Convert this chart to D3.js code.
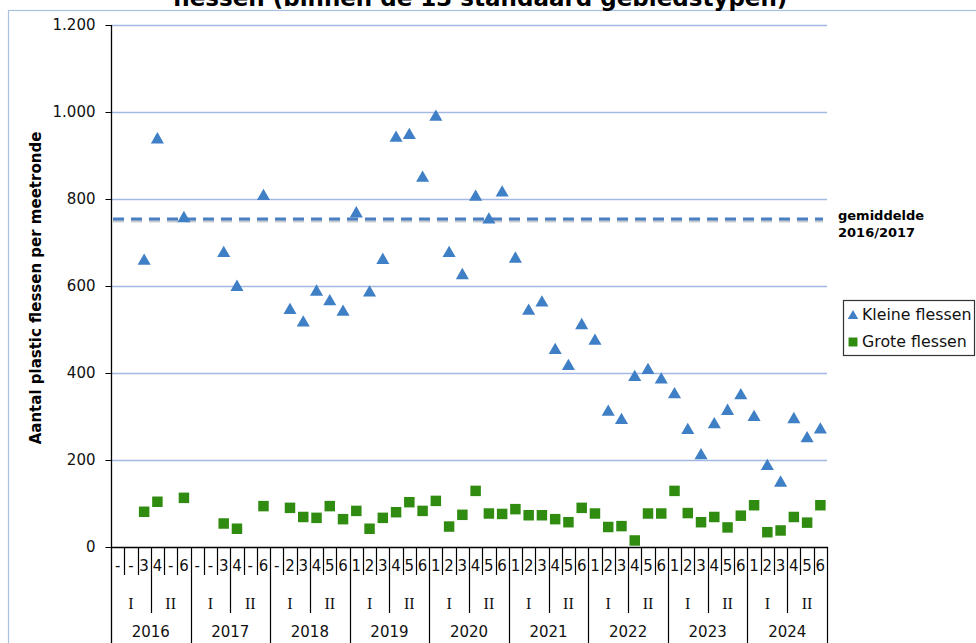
<!DOCTYPE html>
<html>
<head>
<meta charset="utf-8">
<script src="https://cdn.jsdelivr.net/npm/d3@7"></script>
<style>
  html, body { margin: 0; padding: 0; background: #fff; }
  svg { display: block; }
</style>
</head>
<body>
<div id="chart"></div>
<script>
const years = ['2016', '2017', '2018', '2019', '2020', '2021', '2022', '2023', '2024'];
const halves = ['I', 'II'];
const rounds = [
  '-', '-', '3', '4', '-', '6',
  '-', '-', '3', '4', '-', '6',
  '-', '2', '3', '4', '5', '6',
  '1', '2', '3', '4', '5', '6',
  '1', '2', '3', '4', '5', '6',
  '1', '2', '3', '4', '5', '6',
  '1', '2', '3', '4', '5', '6',
  '1', '2', '3', '4', '5', '6',
  '1', '2', '3', '4', '5', '6'
];
const kleineFlessen = [
  null, null, 662, 941, null, 760,
  null, null, 680, 602, null, 811,
  null, 549, 520, 591, 569, 545,
  771, 589, 664, 945, 951, 853,
  993, 680, 629, 809, 757, 819,
  667, 547, 566, 457, 420, 514,
  478, 315, 296, 395, 411, 389,
  355, 273, 215, 286, 317, 353,
  303, 190, 152, 298, 254, 274
];
const groteFlessen = [
  null, null, 81, 104, null, 113,
  null, null, 54, 42, null, 94,
  null, 90, 69, 67, 94, 64,
  83, 42, 67, 80, 103, 83,
  106, 47, 74, 129, 77, 76,
  87, 73, 73, 64, 57, 90,
  77, 46, 48, 15, 77, 77,
  129, 78, 57, 69, 45, 72,
  96, 34, 38, 69, 56, 96
];
const gemiddelde = 754;
const yTicks = [0, 200, 400, 600, 800, 1000, 1200];

const width = 976;
const height = 643;
const plotLeft = 111;
const plotRight = 827;
const plotTop = 25;
const plotBottom = 547;
const font = '"DejaVu Sans", Verdana, sans-serif';
const blue = '#3f7fc5';
const green = '#2f8c10';

const nl = d3.formatLocale({ decimal: ',', thousands: '.', grouping: [3], currency: ['€', ''] });
const fmt = nl.format(',d');

const svg = d3.select('#chart').append('svg')
  .attr('width', width)
  .attr('height', height)
  .style('font-family', font);

// chart frame
svg.append('rect')
  .attr('x', 8.5).attr('y', 10.5)
  .attr('width', 1000).attr('height', 700)
  .attr('fill', 'none')
  .attr('stroke', '#aac0e2')
  .attr('stroke-width', 1.2);

// title (cut off at top, as in the source)
svg.append('text')
  .attr('x', 480).attr('y', 6)
  .attr('text-anchor', 'middle')
  .attr('font-size', 23)
  .attr('font-weight', 'bold')
  .text('flessen (binnen de 13 standaard gebiedstypen)');

const x = d3.scaleBand().domain(d3.range(rounds.length)).range([plotLeft, plotRight]).padding(0);
const y = d3.scaleLinear().domain([0, 1200]).range([plotBottom, plotTop]);
const bw = x.bandwidth();

// gridlines
svg.append('g')
  .selectAll('line')
  .data(yTicks.filter(d => d > 0))
  .enter()
  .append('line')
  .attr('x1', plotLeft).attr('x2', plotRight)
  .attr('y1', d => Math.round(y(d)) + 0.5)
  .attr('y2', d => Math.round(y(d)) + 0.5)
  .attr('stroke', '#a3b9e4')
  .attr('stroke-width', 1.3);

// y axis
const yAxis = svg.append('g')
  .attr('transform', `translate(${plotLeft + 0.5},0)`)
  .call(d3.axisLeft(y).tickValues(yTicks).tickFormat(fmt).tickSize(6).tickPadding(10));
yAxis.select('.domain').remove();
yAxis.selectAll('.tick line').attr('stroke', '#000');
yAxis.selectAll('.tick text')
  .attr('font-size', 15)
  .attr('font-family', font)
  .attr('fill', '#111');

svg.append('line')
  .attr('x1', plotLeft + 0.5).attr('x2', plotLeft + 0.5)
  .attr('y1', plotTop).attr('y2', height)
  .attr('stroke', '#000').attr('stroke-width', 1.3);

svg.append('text')
  .attr('transform', `translate(41,${(plotTop + plotBottom) / 2 + 2}) rotate(-90)`)
  .attr('text-anchor', 'middle')
  .attr('font-size', 15)
  .attr('font-weight', 'bold')
  .text('Aantal plastic flessen per meetronde');

// x axis with three label levels
svg.append('line')
  .attr('x1', plotLeft).attr('x2', plotRight + 1)
  .attr('y1', plotBottom + 0.5).attr('y2', plotBottom + 0.5)
  .attr('stroke', '#000').attr('stroke-width', 1.3);

const xAxis = svg.append('g');
const bounds = d3.range(rounds.length + 1);
xAxis.selectAll('.sep')
  .data(bounds.filter(i => i > 0))
  .enter()
  .append('line')
  .attr('class', 'sep')
  .attr('x1', i => Math.round(plotLeft + i * bw) + 0.5)
  .attr('x2', i => Math.round(plotLeft + i * bw) + 0.5)
  .attr('y1', plotBottom)
  .attr('y2', i => {
    if (i % 6 === 0) return height;
    if (i % 3 === 0) return 613;
    return 575;
  })
  .attr('stroke', '#000')
  .attr('stroke-width', 1.2);

xAxis.selectAll('.round')
  .data(rounds)
  .enter()
  .append('text')
  .attr('x', (d, i) => x(i) + bw / 2)
  .attr('y', 571)
  .attr('text-anchor', 'middle')
  .attr('font-size', 15)
  .attr('fill', '#111')
  .text(d => d);

const halfData = [];
years.forEach((yr, yi) => {
  halves.forEach((h, hi) => {
    halfData.push({ label: h, start: yi * 6 + hi * 3 });
  });
});
xAxis.selectAll('.half')
  .data(halfData)
  .enter()
  .append('text')
  .attr('x', d => x(d.start) + bw * 1.5)
  .attr('y', 609)
  .attr('text-anchor', 'middle')
  .attr('font-size', 16)
  .attr('font-family', '"Liberation Serif", "Times New Roman", serif')
  .attr('fill', '#111')
  .text(d => d.label);

xAxis.selectAll('.year')
  .data(years)
  .enter()
  .append('text')
  .attr('x', (d, i) => x(i * 6) + bw * 3)
  .attr('y', 637)
  .attr('text-anchor', 'middle')
  .attr('font-size', 15)
  .attr('fill', '#111')
  .text(d => d);

// average 2016/2017 dashed line with soft shadow
const avgY = y(gemiddelde);
svg.append('line')
  .attr('x1', plotLeft + 2).attr('x2', plotRight - 4)
  .attr('y1', avgY + 2).attr('y2', avgY + 2)
  .attr('stroke', '#8a8f99')
  .attr('stroke-opacity', 0.45)
  .attr('stroke-width', 3)
  .attr('stroke-dasharray', '11,7');
svg.append('line')
  .attr('x1', plotLeft + 2).attr('x2', plotRight - 4)
  .attr('y1', avgY).attr('y2', avgY)
  .attr('stroke', '#4a7fc3')
  .attr('stroke-width', 3)
  .attr('stroke-dasharray', '11,7');

svg.append('text')
  .attr('x', 838).attr('y', 220)
  .attr('font-size', 13)
  .attr('font-weight', 'bold')
  .selectAll('tspan')
  .data(['gemiddelde', '2016/2017'])
  .enter()
  .append('tspan')
  .attr('x', 838)
  .attr('dy', (d, i) => i === 0 ? 0 : 17)
  .text(d => d);

// markers
const tri = d3.symbol().type(d3.symbolTriangle).size(74);
const sq = d3.symbol().type(d3.symbolSquare).size(110);

const drawPoints = (data, shape, color, dy) => {
  svg.append('g')
    .selectAll('path')
    .data(data.map((v, i) => ({ v, i })).filter(d => d.v !== null))
    .enter()
    .append('path')
    .attr('d', shape)
    .attr('transform', d => `translate(${x(d.i) + bw / 2},${y(d.v) + dy})`)
    .attr('fill', color);
};
drawPoints(groteFlessen, sq, green, 0);
drawPoints(kleineFlessen, tri, blue, 2);

// legend
const legend = svg.append('g');
legend.append('rect')
  .attr('x', 843.5).attr('y', 300.5)
  .attr('width', 131).attr('height', 55)
  .attr('fill', '#fff')
  .attr('stroke', '#333')
  .attr('stroke-width', 1.2);
legend.append('path')
  .attr('d', d3.symbol().type(d3.symbolTriangle).size(48))
  .attr('transform', 'translate(853,316)')
  .attr('fill', blue);
legend.append('path')
  .attr('d', d3.symbol().type(d3.symbolSquare).size(80))
  .attr('transform', 'translate(853,342)')
  .attr('fill', green);
legend.append('text')
  .attr('x', 862).attr('y', 320)
  .attr('font-size', 15.8)
  .attr('fill', '#111')
  .text('Kleine flessen');
legend.append('text')
  .attr('x', 862).attr('y', 347)
  .attr('font-size', 15.8)
  .attr('fill', '#111')
  .text('Grote flessen');
</script>
</body>
</html>
